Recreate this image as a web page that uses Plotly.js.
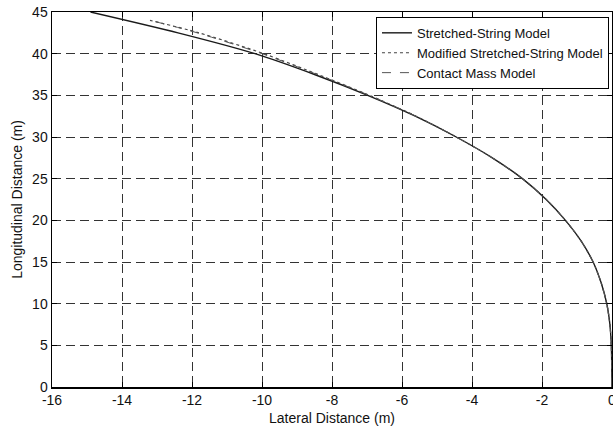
<!DOCTYPE html>
<html>
<head>
<meta charset="utf-8">
<script src="https://cdn.plot.ly/plotly-3.0.1.min.js"></script>
<style>
html,body{margin:0;padding:0;background:#fff;}
#chart{width:613px;height:428px;}
</style>
</head>
<body>
<div id="chart"></div>
<script>
// Stretched-String Model (solid)
const ssX = [0, -0.02, -0.06, -0.15, -0.31, -0.54, -0.88, -1.33, -1.88, -2.56, -3.42, -4.45, -5.62, -6.98, -8.5, -10.2, -12.4, -14.9];
const ssY = [0, 5, 7.5, 10, 12.5, 15, 17.5, 20, 22.5, 25, 27.5, 30, 32.5, 35, 37.5, 40, 42.5, 45];

// Modified Stretched-String Model (dotted)
const mssX = [0, -0.02, -0.06, -0.15, -0.31, -0.54, -0.88, -1.33, -1.88, -2.56, -3.42, -4.45, -5.6, -6.93, -8.4, -9.95, -11.8, -13.2];
const mssY = [0, 5, 7.5, 10, 12.5, 15, 17.5, 20, 22.5, 25, 27.5, 30, 32.5, 35, 37.5, 40, 42.5, 44.0];

// Contact Mass Model (dashed)
const cmX = [0, -0.02, -0.06, -0.15, -0.31, -0.54, -0.88, -1.33, -1.88, -2.56, -3.42, -4.45, -5.6, -6.94, -8.42, -10.0, -11.85, -13.1];
const cmY = [0, 5, 7.5, 10, 12.5, 15, 17.5, 20, 22.5, 25, 27.5, 30, 32.5, 35, 37.5, 40, 42.5, 43.9];

const seriesNames = ["Stretched-String Model", "Modified Stretched-String Model", "Contact Mass Model"];
const xTicks = [-16, -14, -12, -10, -8, -6, -4, -2, 0];
const yTicks = [0, 5, 10, 15, 20, 25, 30, 35, 40, 45];

const font = {family: "Liberation Sans, Arial, sans-serif", size: 14, color: "#111"};
const legendFont = {family: "Liberation Sans, Arial, sans-serif", size: 13, color: "#111"};

const traces = [
  {x: ssX, y: ssY, name: seriesNames[0], mode: "lines", line: {color: "#1a1a1a", width: 1.4, dash: "solid", shape: "spline", smoothing: 0.8}},
  {x: mssX, y: mssY, name: seriesNames[1], mode: "lines", line: {color: "#444", width: 1.2, dash: "dot", shape: "spline", smoothing: 0.8}},
  {x: cmX, y: cmY, name: seriesNames[2], mode: "lines", line: {color: "#555", width: 1, dash: "dash", shape: "spline", smoothing: 0.8}}
];

const axisCommon = {
  showline: true, mirror: "ticks", linecolor: "#000", linewidth: 1.5,
  ticks: "inside", ticklen: 5, tickcolor: "#000", tickwidth: 1,
  showgrid: true, gridcolor: "#333", gridwidth: 1, griddash: "9px,5px",
  zeroline: false, tickfont: font, ticklabeloverflow: "allow"
};

const layout = {
  width: 613, height: 428,
  margin: {l: 52, r: 1, t: 12, b: 41},
  paper_bgcolor: "#fff", plot_bgcolor: "#fff",
  font: font,
  showlegend: true,
  xaxis: Object.assign({}, axisCommon, {
    automargin: "bottom",
    range: [-16, 0], tickvals: xTicks, ticktext: xTicks.map(String),
    title: {text: "Lateral Distance (m)", font: font, standoff: 6}
  }),
  yaxis: Object.assign({}, axisCommon, {
    automargin: "left",
    range: [0, 45], tickvals: yTicks, ticktext: yTicks.map(String),
    title: {text: "Longitudinal Distance (m)", font: font, standoff: 6}
  }),
  legend: {
    x: 0.9946, y: 0.987, xanchor: "right", yanchor: "top",
    bgcolor: "#fff", bordercolor: "#000", borderwidth: 1,
    font: legendFont, tracegroupgap: 0, itemwidth: 30
  }
};

Plotly.newPlot("chart", traces, layout, {staticPlot: true, displayModeBar: false});
</script>
</body>
</html>
